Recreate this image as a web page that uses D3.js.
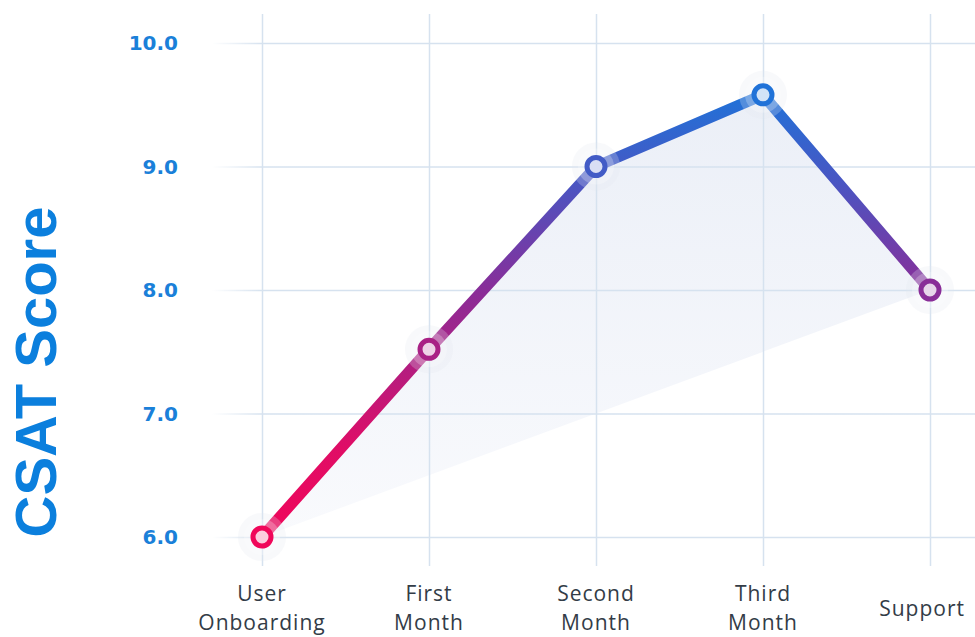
<!DOCTYPE html>
<html>
<head>
<meta charset="utf-8">
<script src="https://cdn.jsdelivr.net/npm/d3@7"></script>
<style>
  body { margin: 0; background: #fff; }
  svg { display: block; }
</style>
</head>
<body>
<svg id="chart" width="975" height="637"></svg>
<script>
const stages = ["User Onboarding", "First Month", "Second Month", "Third Month", "Support"];
const stageLines = [["User", "Onboarding"], ["First", "Month"], ["Second", "Month"], ["Third", "Month"], ["Support"]];
const scores = [6.0, 7.52, 9.0, 9.58, 8.0];
const yTicks = [6, 7, 8, 9, 10];

const svg = d3.select("#chart");
const width = +svg.attr("width");
const height = +svg.attr("height");
const margin = { top: 43, right: 45, bottom: 100, left: 262 };

const x = d3.scalePoint().domain(stages).range([margin.left, width - margin.right]);
const y = d3.scaleLinear().domain([6, 10]).range([height - margin.bottom, margin.top]);

const data = stages.map((s, i) => ({ stage: s, value: scores[i] }));

// colour by height: red at the bottom, blue at the top
const stopOffs = [0, 0.2, 0.55, 0.8, 1];
const stopCols = ["#f0075a", "#e00d66", "#8b2c97", "#4a55c2", "#2072d8"];
const colorAt = d3.scaleLinear()
  .domain(stopOffs.map(o => 6 + o * 3.58))
  .range(stopCols)
  .clamp(true);

const defs = svg.append("defs");

const lineGrad = defs.append("linearGradient")
  .attr("id", "lineGrad")
  .attr("gradientUnits", "userSpaceOnUse")
  .attr("x1", 0).attr("x2", 0)
  .attr("y1", y(6)).attr("y2", y(9.58));
stopOffs.forEach((o, i) => {
  lineGrad.append("stop").attr("offset", o).attr("stop-color", stopCols[i]);
});

const areaGrad = defs.append("linearGradient")
  .attr("id", "areaGrad")
  .attr("gradientUnits", "userSpaceOnUse")
  .attr("x1", 0).attr("x2", 0)
  .attr("y1", y(9.6)).attr("y2", y(6));
areaGrad.append("stop").attr("offset", "0%").attr("stop-color", "#ebeff7");
areaGrad.append("stop").attr("offset", "100%").attr("stop-color", "#f9fafd");

// horizontal grid fades in on the left (coords are local to each tick)
const hGrad = defs.append("linearGradient")
  .attr("id", "hGrad")
  .attr("gradientUnits", "userSpaceOnUse")
  .attr("x1", 212 - width).attr("x2", 262 - width).attr("y1", 0).attr("y2", 0);
hGrad.append("stop").attr("offset", "0%").attr("stop-color", "#d6e2ef").attr("stop-opacity", 0);
hGrad.append("stop").attr("offset", "100%").attr("stop-color", "#d6e2ef").attr("stop-opacity", 1);

// shaded area between the line and the chord from first to last point
const areaPts = data.map(d => [x(d.stage), y(d.value)]);
svg.append("path")
  .attr("d", d3.line()(areaPts) + "Z")
  .attr("fill", "url(#areaGrad)");

// grid
const yAxisG = svg.append("g")
  .attr("transform", `translate(${width}, 0)`)
  .call(d3.axisLeft(y).tickValues(yTicks).tickSize(width - 212).tickFormat(""));
yAxisG.select(".domain").remove();
yAxisG.selectAll(".tick line").attr("stroke", "url(#hGrad)").attr("stroke-width", 1.5);

const xAxisG = svg.append("g")
  .attr("transform", `translate(0, 566)`)
  .call(d3.axisTop(x).tickSize(566 - 14).tickFormat(""));
xAxisG.select(".domain").remove();
xAxisG.selectAll(".tick line").attr("stroke", "#d6e2ef").attr("stroke-width", 1.5);

// y tick labels
svg.append("g").selectAll("text")
  .data(yTicks)
  .enter()
  .append("text")
  .attr("x", 178)
  .attr("y", d => y(d))
  .attr("dy", "0.36em")
  .attr("text-anchor", "end")
  .attr("font-family", "'DejaVu Sans', sans-serif")
  .attr("font-weight", 700)
  .attr("font-size", 20)
  .attr("fill", "#1a80d9")
  .text(d => d3.format(".1f")(d));

// y title
svg.append("text")
  .attr("transform", `translate(56, ${372}) rotate(-90)`)
  .attr("text-anchor", "middle")
  .attr("font-family", "'Liberation Sans', Arial, sans-serif")
  .attr("font-weight", 700)
  .attr("font-size", 58)
  .attr("fill", "#0b7fdd")
  .text("CSAT Score");

// x labels, one text per line; the last one is kept inside the right edge
const labelG = svg.append("g")
  .attr("font-family", "'Open Sans', sans-serif")
  .attr("font-size", 21)
  .attr("letter-spacing", 1)
  .attr("fill", "#333c47")
  .attr("text-anchor", "middle");
stages.forEach((s, i) => {
  const lines = stageLines[i];
  const base = lines.length === 1 ? 616 : 601;
  lines.forEach((t, j) => {
    const txt = labelG.append("text")
      .attr("x", x(s))
      .attr("y", base + j * 29)
      .text(t);
    const w = txt.node().getComputedTextLength();
    if (x(s) + w / 2 > width - 10) txt.attr("x", width - 10 - w / 2);
  });
});

// line
svg.append("path")
  .datum(data)
  .attr("d", d3.line().x(d => x(d.stage)).y(d => y(d.value)))
  .attr("fill", "none")
  .attr("stroke", "url(#lineGrad)")
  .attr("stroke-width", 11)
  .attr("stroke-linejoin", "round");

// point halos and markers
const pts = svg.append("g").selectAll("g")
  .data(data)
  .enter()
  .append("g");

pts.append("circle")
  .attr("cx", d => x(d.stage)).attr("cy", d => y(d.value))
  .attr("r", 24).attr("fill", "#e3e8f0").attr("opacity", 0.25);
pts.append("circle")
  .attr("cx", d => x(d.stage)).attr("cy", d => y(d.value))
  .attr("r", 18).attr("fill", "#ffffff").attr("opacity", 0.24);
pts.append("circle")
  .attr("cx", d => x(d.stage)).attr("cy", d => y(d.value))
  .attr("r", 9)
  .attr("fill", d => d3.interpolateRgb(colorAt(d.value), "#ffffff")(0.8))
  .attr("stroke", d => colorAt(d.value))
  .attr("stroke-width", 5);
</script>
</body>
</html>
